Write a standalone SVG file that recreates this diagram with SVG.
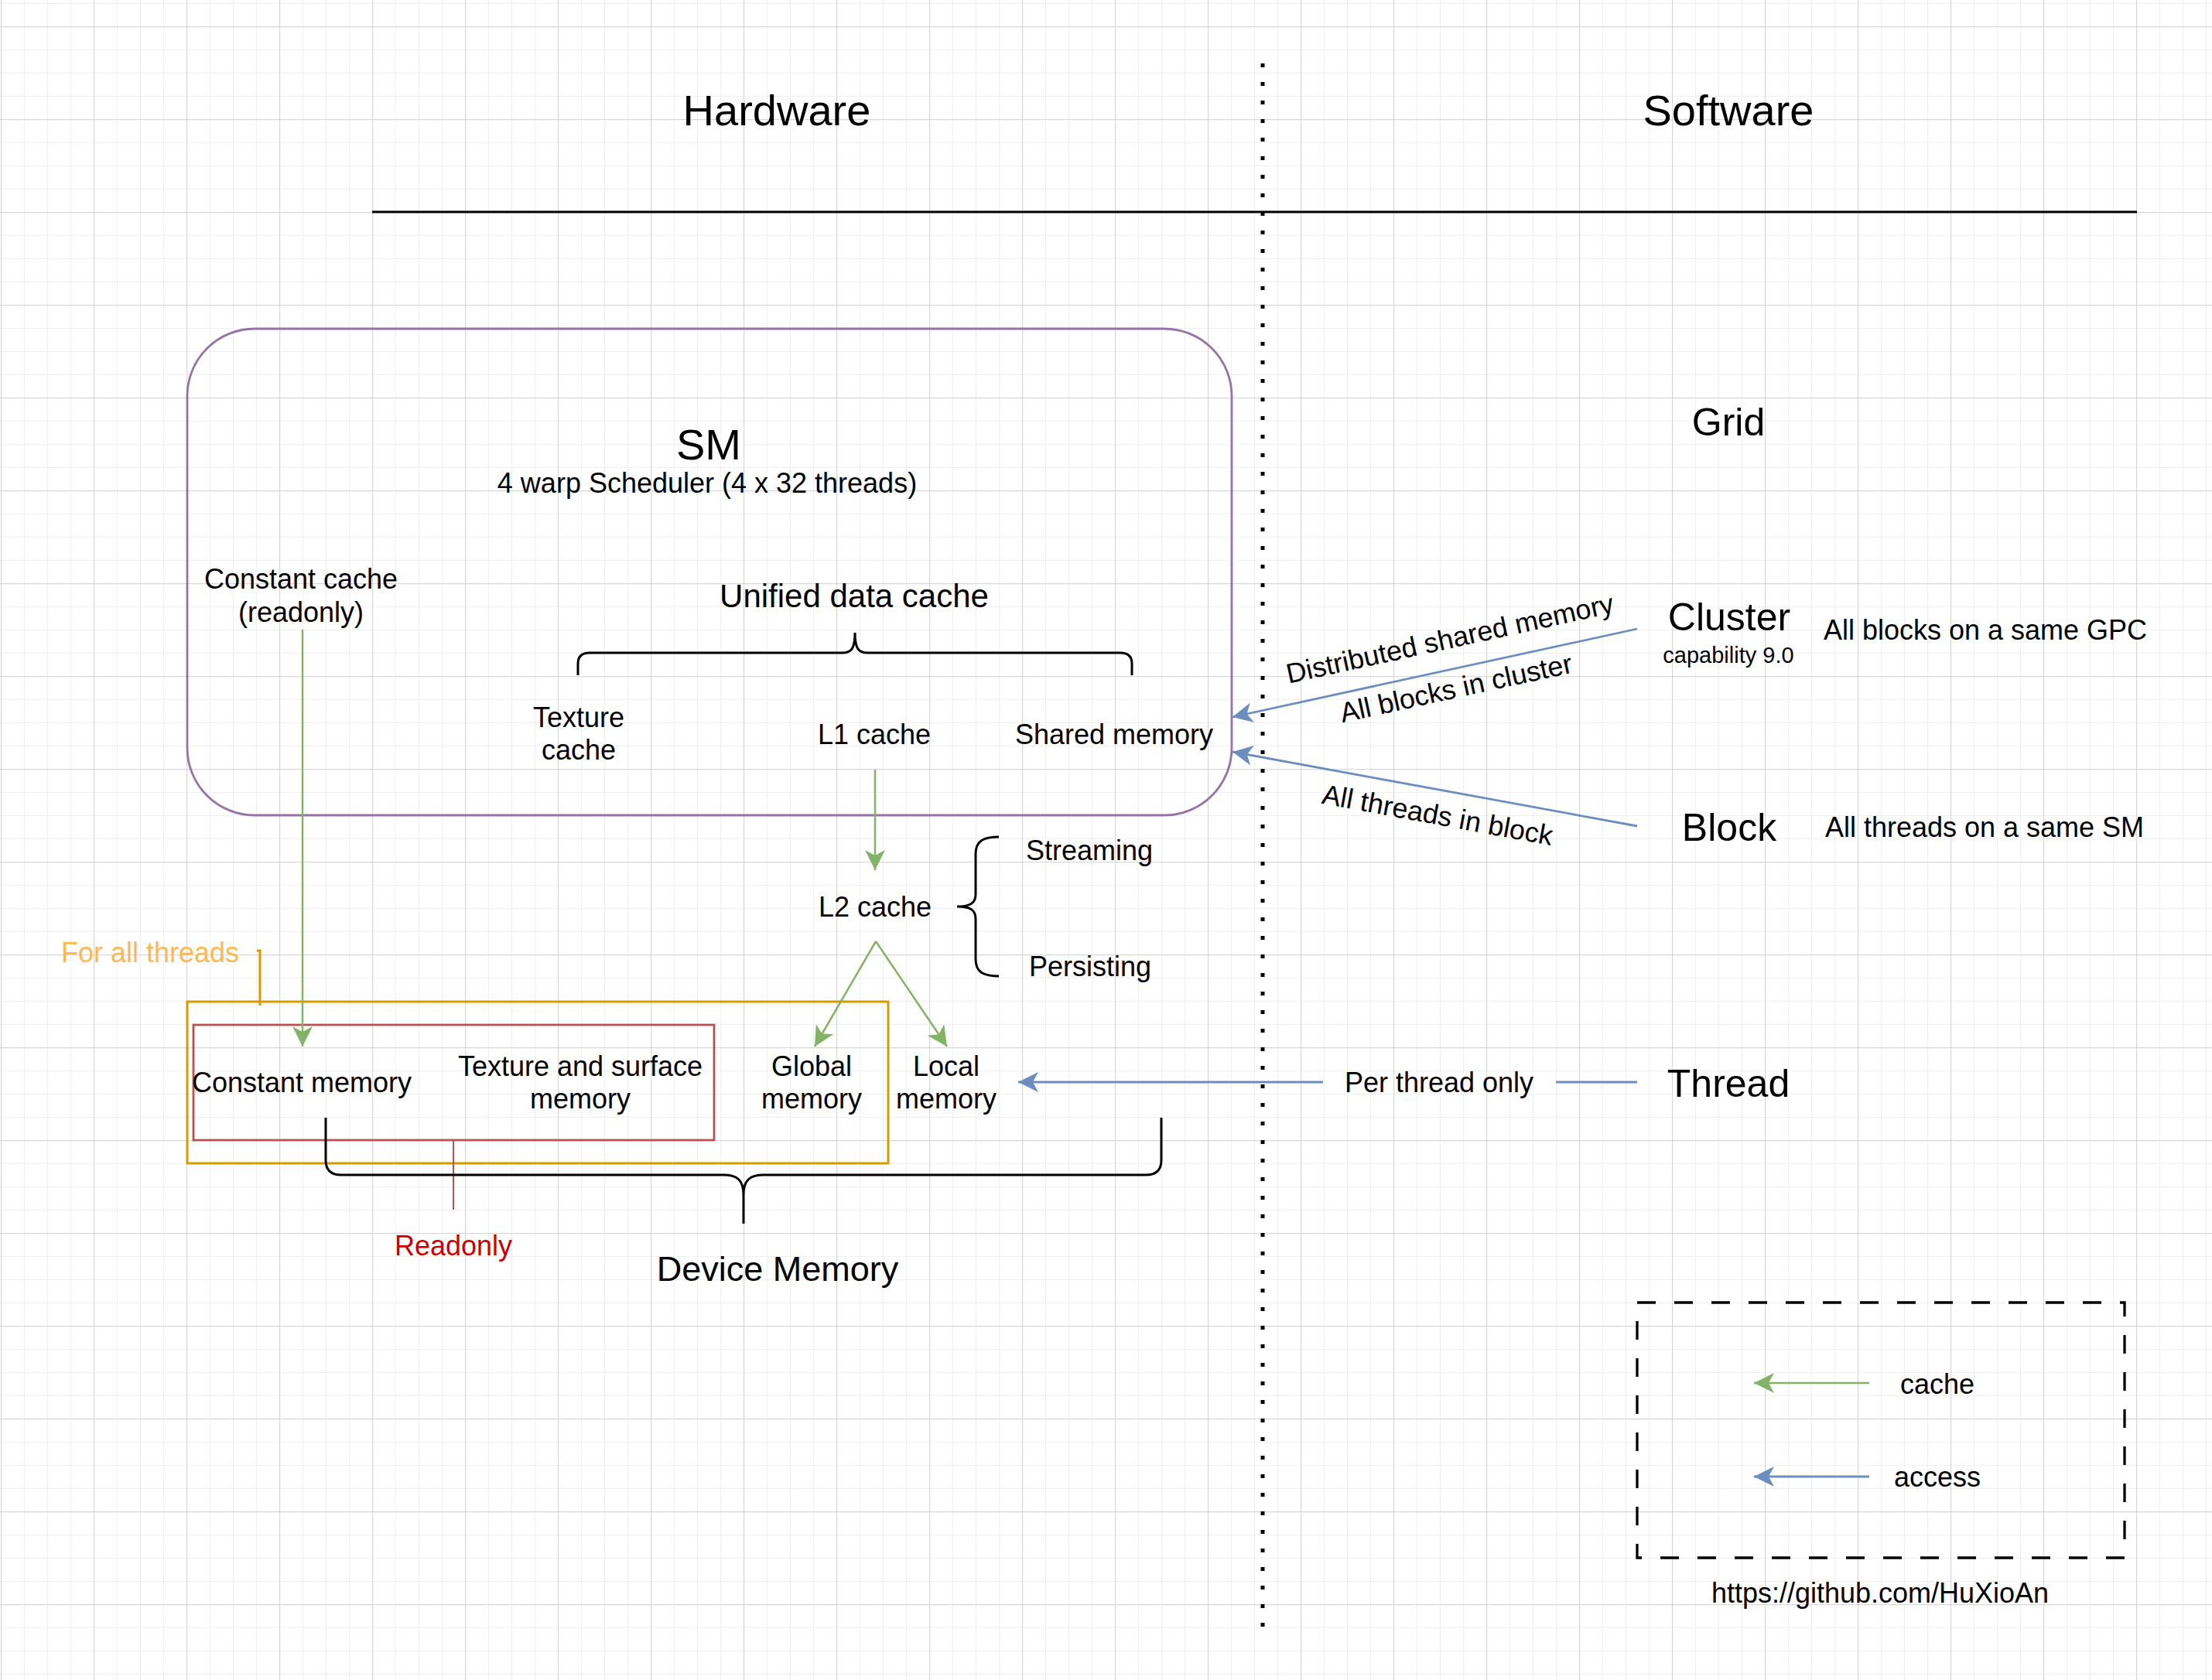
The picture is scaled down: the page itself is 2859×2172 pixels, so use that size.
<svg xmlns="http://www.w3.org/2000/svg" width="2859" height="2172" viewBox="0 0 2859 2172">
<style>
text{font-family:"Liberation Sans",Arial,Helvetica,sans-serif;fill:#000;text-anchor:middle}
.t29{font-size:29px}
.t36{font-size:36px}
.t42{font-size:42px}
.t45{font-size:45px}
.t50{font-size:50px}
.t56{font-size:56px}
.cache{stroke:#82b366;stroke-width:2.5;fill:none;marker-end:url(#ag)}
.access{stroke:#6c8ebf;stroke-width:2.8;fill:none}
.arr{marker-end:url(#ab)}
.brace{stroke:#000;stroke-width:3;fill:none}
</style>
<defs>
<pattern id="grid" x="1" y="34" width="120" height="120" patternUnits="userSpaceOnUse">
<path d="M30.5,0V120M60.5,0V120M90.5,0V120M0,30.5H120M0,60.5H120M0,90.5H120" stroke="#f0f0f0" stroke-width="1"/>
<path d="M0.5,0V120M0,0.5H120" stroke="#d9d9d9" stroke-width="1.5"/>
</pattern>
<marker id="ag" viewBox="0 0 26 26" refX="26" refY="13" markerWidth="26" markerHeight="26" markerUnits="userSpaceOnUse" orient="auto"><path d="M26,13 L0,0 L7,13 L0,26 Z" fill="#82b366"/></marker>
<marker id="ab" viewBox="0 0 26 26" refX="26" refY="13" markerWidth="26" markerHeight="26" markerUnits="userSpaceOnUse" orient="auto"><path d="M26,13 L0,0 L7,13 L0,26 Z" fill="#6c8ebf"/></marker>
</defs>
<rect width="2859" height="2172" fill="#fff"/>
<rect width="2859" height="2172" fill="url(#grid)"/>

<g id="headers">
<text class="t56" x="1004" y="162">Hardware</text>
<text class="t56" x="2234" y="162">Software</text>
<line x1="481" y1="274" x2="2762" y2="274" stroke="#000" stroke-width="3"/>
<line x1="1632" y1="82" x2="1632" y2="2106" stroke="#000" stroke-width="5" stroke-dasharray="5 19"/>
</g>

<g id="sm">
<rect x="242" y="425" width="1350" height="629" rx="87" ry="87" fill="none" stroke="#9673a6" stroke-width="2.8"/>
<text class="t56" x="916" y="594">SM</text>
<text class="t36" x="914" y="637">4 warp Scheduler (4 x 32 threads)</text>
</g>

<g id="constant-cache">
<text class="t36" x="389" y="761">Constant cache</text>
<text class="t36" x="389" y="804">(readonly)</text>
</g>

<g id="unified-data-cache">
<text class="t42" x="1104" y="785">Unified data cache</text>
<path class="brace" d="M747,873 L747,858 C747,849 752,844 762,844 L1089,844 C1100,844 1105,839 1105,818 C1105,839 1110,844 1121,844 L1448,844 C1458,844 1463,849 1463,858 L1463,873"/>
</g>

<g id="texture-cache">
<text class="t36" x="748" y="940">Texture</text>
<text class="t36" x="748" y="982">cache</text>
</g>
<g id="l1-cache"><text class="t36" x="1130" y="962">L1 cache</text></g>
<g id="shared-memory"><text class="t36" x="1440" y="962">Shared memory</text></g>

<g id="l2-cache"><text class="t36" x="1131" y="1185">L2 cache</text></g>
<g id="l2-modes">
<path class="brace" d="M1291,1082 C1270,1082 1261,1088 1261,1104 L1261,1156 C1261,1167 1255,1172 1237,1172 C1255,1172 1261,1177 1261,1188 L1261,1240 C1261,1256 1270,1262 1291,1262"/>
<text class="t36" x="1408" y="1112">Streaming</text>
<text class="t36" x="1409" y="1262">Persisting</text>
</g>

<g id="for-all-threads">
<rect x="242" y="1295" width="906" height="209" fill="none" stroke="#d79b00" stroke-width="3"/>
<text class="t36" x="194" y="1244" style="fill:#ffb84d">For all threads</text>
<path d="M332,1229 L336,1229 L336,1300" fill="none" stroke="#d79b00" stroke-width="3"/>
</g>

<g id="readonly">
<rect x="250" y="1325" width="673" height="149" fill="none" stroke="#b85450" stroke-width="2.8"/>
<line x1="586" y1="1475" x2="586" y2="1564" stroke="#b85450" stroke-width="2"/>
<text class="t36" x="586" y="1623" style="fill:#cc0000">Readonly</text>
</g>

<g id="constant-memory"><text class="t36" x="390" y="1412">Constant memory</text></g>
<g id="texture-surface-memory">
<text class="t36" x="750" y="1391">Texture and surface</text>
<text class="t36" x="750" y="1433">memory</text>
</g>
<g id="global-memory">
<text class="t36" x="1049" y="1391">Global</text>
<text class="t36" x="1049" y="1433">memory</text>
</g>
<g id="local-memory">
<text class="t36" x="1223" y="1391">Local</text>
<text class="t36" x="1223" y="1433">memory</text>
</g>

<g id="device-memory">
<path class="brace" d="M421,1445 L421,1500 C421,1513 428,1519 441,1519 L935,1519 C952,1519 961,1525 961,1545 L961,1582 M961,1545 C961,1525 970,1519 987,1519 L1481,1519 C1494,1519 1501,1513 1501,1500 L1501,1445"/>
<text class="t45" x="1005" y="1656">Device Memory</text>
</g>

<g id="grid-node"><text class="t50" x="2234" y="563">Grid</text></g>
<g id="cluster">
<text class="t50" x="2235" y="815">Cluster</text>
<text class="t29" x="2234" y="857">capability 9.0</text>
<text class="t36" x="2566" y="827">All blocks on a same GPC</text>
</g>
<g id="block">
<text class="t50" x="2235" y="1087">Block</text>
<text class="t36" x="2565" y="1082">All threads on a same SM</text>
</g>
<g id="thread"><text class="t50" x="2234" y="1418">Thread</text></g>

<g id="connectors">
<line class="cache" x1="391" y1="814" x2="391" y2="1353"/>
<line class="cache" x1="1131" y1="995" x2="1131" y2="1125"/>
<line class="cache" x1="1132" y1="1217" x2="1053" y2="1353"/>
<line class="cache" x1="1132" y1="1217" x2="1224" y2="1353"/>
<line class="access arr" x1="2116" y1="813" x2="1593" y2="927"/>
<line class="access arr" x1="2116" y1="1068" x2="1593" y2="972"/>
<line class="access" x1="2116" y1="1399" x2="2011" y2="1399"/>
<line class="access arr" x1="1710" y1="1399" x2="1316" y2="1399"/>
<text class="t36" transform="translate(1874,826) rotate(-12.3)" x="0" y="12">Distributed shared memory</text>
<text class="t36" transform="translate(1882,890) rotate(-12.3)" x="0" y="12">All blocks in cluster</text>
<text class="t36" transform="translate(1858,1054) rotate(10.4)" x="0" y="12">All threads in block</text>
<text class="t36" x="1860" y="1412">Per thread only</text>
</g>

<g id="legend">
<rect x="2116" y="1684" width="630" height="330" fill="none" stroke="#000" stroke-width="3.3" stroke-dasharray="24 24"/>
<line class="cache" x1="2416" y1="1788" x2="2267" y2="1788"/>
<text class="t36" x="2504" y="1802">cache</text>
<line class="access arr" x1="2416" y1="1909" x2="2267" y2="1909"/>
<text class="t36" x="2504" y="1922">access</text>
</g>
<g id="credit"><text class="t36" x="2430" y="2072">https://github.com/HuXioAn</text></g>
</svg>
